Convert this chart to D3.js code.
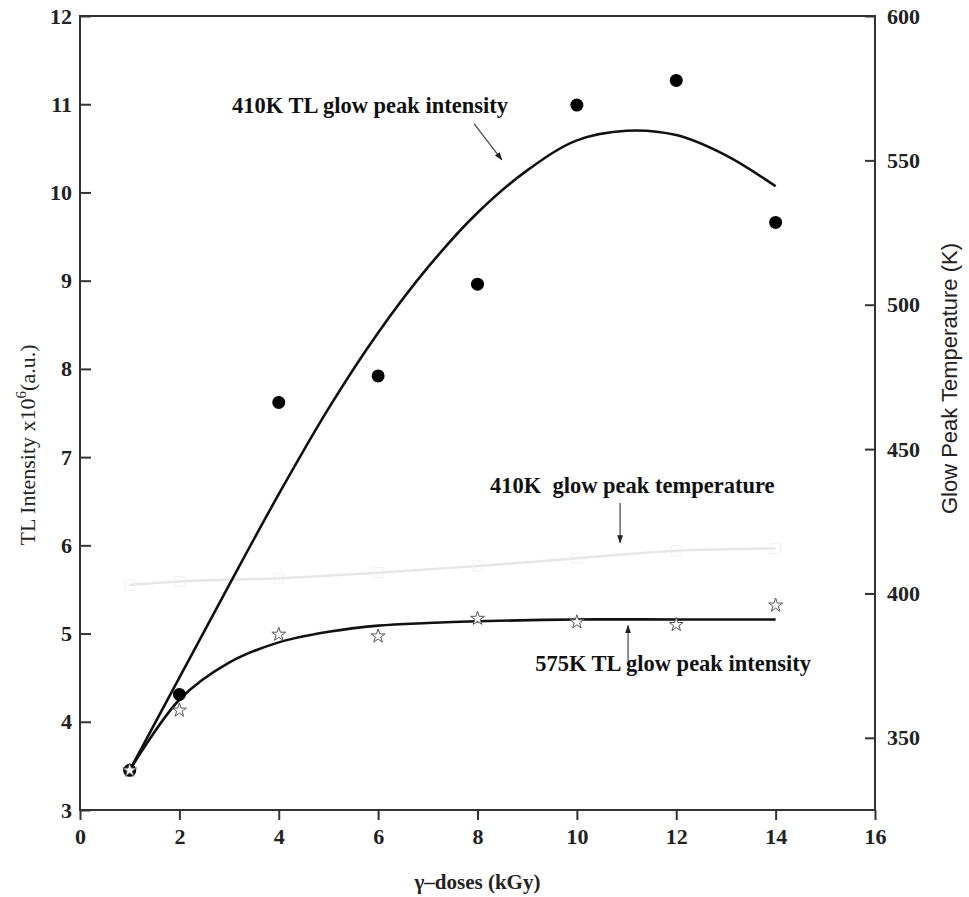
<!DOCTYPE html>
<html>
<head>
<meta charset="utf-8">
<script src="https://cdn.jsdelivr.net/npm/d3@7"></script>
<style>
  body { margin: 0; background: #fff; }
  svg { display: block; }
  .tick text { font-family: "Liberation Serif", serif; font-weight: bold; font-size: 22px; fill: #222; }
</style>
</head>
<body>
<div id="chart"></div>
<script>
// measured points
var doses = [1, 2, 4, 6, 8, 10, 12, 14];
var peak410 = [3.45, 4.31, 7.62, 7.92, 8.96, 10.99, 11.27, 9.66];
var peak575 = [3.45, 4.13, 4.99, 4.97, 5.17, 5.13, 5.10, 5.32];
var temp410 = [402.9, 404.1, 405.3, 407.2, 409.5, 412.2, 414.8, 415.6];

// fitted curves
var fit410X = [1, 2, 3, 4, 5, 6, 7, 8, 9, 10, 11, 12, 13, 14];
var fit410Y = [3.45, 4.5, 5.55, 6.58, 7.55, 8.41, 9.15, 9.77, 10.25, 10.59, 10.70, 10.65, 10.42, 10.07];
var fit575X = [1, 2, 3, 4, 5, 6, 7, 8, 10, 12, 14];
var fit575Y = [3.45, 4.25, 4.67, 4.90, 5.02, 5.09, 5.12, 5.14, 5.16, 5.16, 5.16];

var xTicks = [0, 2, 4, 6, 8, 10, 12, 14, 16];
var yTicks = [3, 4, 5, 6, 7, 8, 9, 10, 11, 12];
var y2Ticks = [350, 400, 450, 500, 550, 600];

var width = 969, height = 897;
var plotLeft = 80, plotRight = 875, plotTop = 16, plotBottom = 810;
var axisColor = "#333";

var svg = d3.select("#chart").append("svg")
  .attr("width", width)
  .attr("height", height);

var x = d3.scaleLinear().domain([0, 16]).range([plotLeft, plotRight]);
var y = d3.scaleLinear().domain([3, 12]).range([plotBottom, plotTop]);
var y2 = d3.scaleLinear().domain([325, 600]).range([plotBottom, plotTop]);

// arrow head
svg.append("defs").append("marker")
  .attr("id", "head")
  .attr("viewBox", "0 0 10 10")
  .attr("refX", 9).attr("refY", 5)
  .attr("markerWidth", 7).attr("markerHeight", 9)
  .attr("orient", "auto")
  .append("path")
  .attr("d", "M0,1.5 L10,5 L0,8.5 Z")
  .attr("fill", "#222");

// axes: left/right ticks point inward, bottom ticks outward
var xAxis = svg.append("g")
  .attr("transform", "translate(0," + plotBottom + ")")
  .call(d3.axisBottom(x).tickValues(xTicks).tickSize(10).tickPadding(8).tickFormat(d3.format("d")));

var yAxis = svg.append("g")
  .attr("transform", "translate(" + plotLeft + ",0)")
  .call(d3.axisLeft(y).tickValues(yTicks).tickSize(-11).tickPadding(8).tickFormat(d3.format("d")));

var y2Axis = svg.append("g")
  .attr("transform", "translate(" + plotRight + ",0)")
  .call(d3.axisRight(y2).tickValues(y2Ticks).tickSize(-10).tickPadding(12).tickFormat(d3.format("d")));

[xAxis, yAxis, y2Axis].forEach(function(g) {
  g.select(".domain").remove();
  g.selectAll(".tick line").attr("stroke", axisColor).attr("stroke-width", 2);
});

// frame (top edge and the three axis lines)
svg.append("path")
  .attr("d", "M" + plotLeft + "," + plotTop + "H" + plotRight + "V" + plotBottom + "H" + plotLeft + "Z")
  .attr("fill", "none")
  .attr("stroke", axisColor)
  .attr("stroke-width", 2);

// 410K glow peak temperature (right axis, very light grey)
var tempLine = d3.line()
  .x(function(d, i) { return x(doses[i]); })
  .y(function(d) { return y2(d); })
  .curve(d3.curveMonotoneX);

svg.append("path")
  .datum(temp410)
  .attr("d", tempLine)
  .attr("fill", "none")
  .attr("stroke", "#e6e6e6")
  .attr("stroke-width", 2.5);

svg.selectAll(".temp-pt")
  .data(temp410)
  .enter().append("rect")
  .attr("class", "temp-pt")
  .attr("x", function(d, i) { return x(doses[i]) - 5; })
  .attr("y", function(d) { return y2(d) - 5; })
  .attr("width", 10).attr("height", 10)
  .attr("fill", "none")
  .attr("stroke", "#f0f0f0")
  .attr("stroke-width", 1);

// fitted curves
function fitLine(xs) {
  return d3.line()
    .x(function(d, i) { return x(xs[i]); })
    .y(function(d) { return y(d); })
    .curve(d3.curveCatmullRom);
}

svg.append("path")
  .datum(fit410Y)
  .attr("d", fitLine(fit410X))
  .attr("fill", "none")
  .attr("stroke", "#111")
  .attr("stroke-width", 2.6);

svg.append("path")
  .datum(fit575Y)
  .attr("d", fitLine(fit575X))
  .attr("fill", "none")
  .attr("stroke", "#111")
  .attr("stroke-width", 2.6);

// 410K intensity points
svg.selectAll(".p410")
  .data(peak410)
  .enter().append("circle")
  .attr("class", "p410")
  .attr("cx", function(d, i) { return x(doses[i]); })
  .attr("cy", function(d) { return y(d); })
  .attr("r", 6.5)
  .attr("fill", "#000");

// 575K intensity points (open stars)
svg.selectAll(".p575")
  .data(peak575)
  .enter().append("path")
  .attr("class", "p575")
  .attr("transform", function(d, i) { return "translate(" + x(doses[i]) + "," + y(d) + ")"; })
  .attr("d", d3.symbol().type(d3.symbolStar).size(60)())
  .attr("fill", "#fff")
  .attr("stroke", "#555")
  .attr("stroke-width", 1);

// annotations
var noteFont = "Liberation Serif";
function note(tx, ty, label) {
  svg.append("text")
    .attr("x", x(tx)).attr("y", y(ty))
    .attr("font-family", noteFont)
    .attr("font-weight", "bold")
    .attr("font-size", 22.5)
    .attr("fill", "#111")
    .style("white-space", "pre")
    .text(label);
}
function arrow(x1, y1, x2, y2v) {
  svg.append("line")
    .attr("x1", x(x1)).attr("y1", y(y1))
    .attr("x2", x(x2)).attr("y2", y(y2v))
    .attr("stroke", "#444")
    .attr("stroke-width", 1.2)
    .attr("marker-end", "url(#head)");
}

note(3.06, 10.90, "410K TL glow peak intensity");
arrow(7.93, 10.78, 8.49, 10.37);

note(8.25, 6.59, "410K  glow peak temperature");
arrow(10.87, 6.48, 10.87, 6.03);

note(9.16, 4.58, "575K TL glow peak intensity");
arrow(11.03, 4.69, 11.03, 5.09);

// axis titles
svg.append("text")
  .attr("x", (plotLeft + plotRight) / 2)
  .attr("y", 889)
  .attr("text-anchor", "middle")
  .attr("font-family", "Liberation Serif")
  .attr("font-weight", "bold")
  .attr("font-size", 21)
  .attr("fill", "#222")
  .text("\u03b3\u2013doses (kGy)");

var yTitle = svg.append("text")
  .attr("transform", "translate(35,445) rotate(-90)")
  .attr("text-anchor", "middle")
  .attr("font-family", "Liberation Serif")
  .attr("font-size", 22)
  .attr("fill", "#222");
yTitle.append("tspan").text("TL Intensity x10");
yTitle.append("tspan").attr("dy", -9).attr("font-size", 15).text("6");
yTitle.append("tspan").attr("dy", 9).text("(a.u.)");

svg.append("text")
  .attr("transform", "translate(957,243) rotate(-90)")
  .attr("text-anchor", "end")
  .attr("font-family", "Liberation Sans")
  .attr("font-size", 22)
  .attr("fill", "#222")
  .text("Glow Peak Temperature (K)");
</script>
</body>
</html>
